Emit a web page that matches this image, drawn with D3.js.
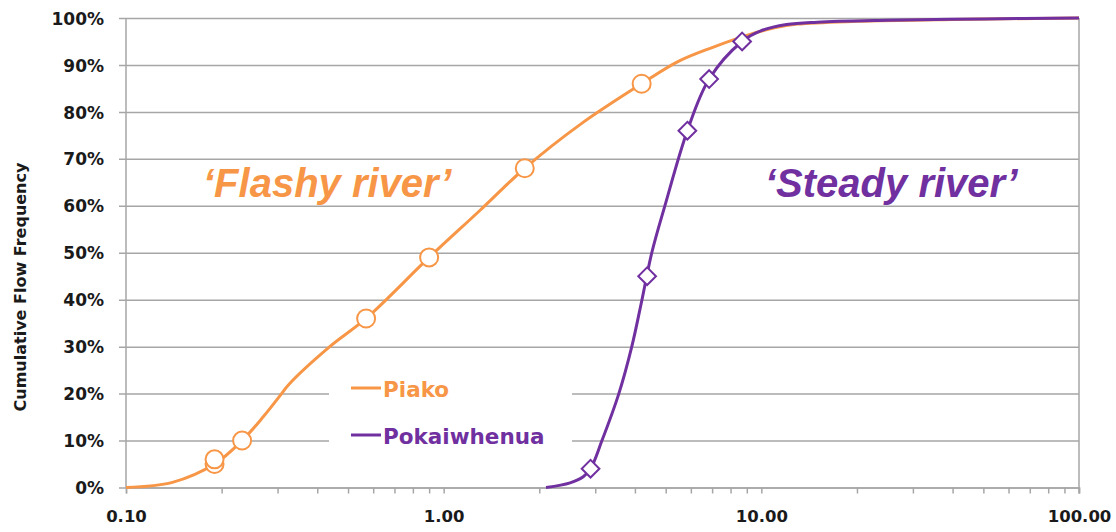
<!DOCTYPE html>
<html>
<head>
<meta charset="utf-8">
<script src="https://cdn.jsdelivr.net/npm/d3@7"></script>
<style>
  body { margin: 0; background: #fff; }
  svg { display: block; }
</style>
</head>
<body>
<svg id="chart" width="1116" height="532"></svg>
<script>
// flow duration curves
const piakoFlow = [0.1, 0.14, 0.19, 0.232, 0.27, 0.309, 0.324, 0.438, 0.57, 0.9, 1.3, 1.8, 2.7, 4.2, 5.5, 7, 9, 11, 13, 20, 40, 100]
const piakoFreq = [0, 1.1, 5, 10, 15, 20, 21.8, 30, 36, 49, 59, 68, 77.4, 86, 90.8, 93.7, 96.3, 97.9, 98.7, 99.3, 99.7, 100]
const pokaFlow = [2.1, 2.5, 2.75, 2.9, 3.15, 3.56, 3.91, 4.21, 4.52, 4.97, 5.85, 6.85, 8.7, 10, 12, 15, 25, 50, 100]
const pokaFreq = [0, 1, 2.3, 4, 10, 20, 30, 40, 50, 60, 76, 87, 95, 97.3, 98.6, 99.1, 99.5, 99.8, 100]

// marker points
const piakoMarkFlow = [0.19, 0.19, 0.232, 0.57, 0.9, 1.8, 4.2]
const piakoMarkFreq = [5, 6, 10, 36, 49, 68, 86]
const pokaMarkFlow = [2.9, 4.37, 5.85, 6.85, 8.7]
const pokaMarkFreq = [4, 45, 76, 87, 95]

const xTicks = [0.1, 1, 10, 100]
const yTicks = [0, 10, 20, 30, 40, 50, 60, 70, 80, 90, 100]

const orange = '#f79646'
const purple = '#7030a0'
const grid = '#a6a6a6'

const svg = d3.select('#chart')
const mLeft = 126, mRight = 1079, mTop = 18, mBottom = 487.5

const x = d3.scaleLog().domain([0.1, 100]).range([mLeft, mRight])
const y = d3.scaleLinear().domain([0, 100]).range([mBottom, mTop])

// gridlines + y labels
const yAxis = d3.axisLeft(y)
    .tickValues(yTicks)
    .tickSize(-(mRight - mLeft) - 7)
    .tickFormat(d => d + '%')
svg.append('g')
    .attr('transform', `translate(${mRight},0)`)
    .call(yAxis)
    .call(g => g.select('.domain').remove())
    .call(g => g.selectAll('.tick line').attr('stroke', grid).attr('stroke-width', 1.5)
        .attr('x1', -(mRight - mLeft) - 7).attr('x2', 0))
    .call(g => g.selectAll('.tick text')
        .attr('x', -(mRight - mLeft) - 22)
        .attr('dy', '0.36em')
        .style('font-family', 'DejaVu Sans')
        .style('font-weight', 'bold')
        .style('font-size', '17px')
        .attr('fill', '#1a1a1a'))

// x axis with minor ticks
const minor = []
for (let dec = 0.1; dec < 100; dec *= 10) {
    for (let k = 1; k <= 10; k++) minor.push(+(dec * k).toPrecision(3))
}
const xAxis = d3.axisBottom(x)
    .tickValues([...new Set(minor)])
    .tickSize(6)
    .tickFormat(d => xTicks.includes(d) ? d.toFixed(2) : '')
svg.append('g')
    .attr('transform', `translate(0,${mBottom})`)
    .call(xAxis)
    .call(g => g.select('.domain').attr('stroke', grid).attr('stroke-width', 1.5))
    .call(g => g.selectAll('.tick line').attr('stroke', grid).attr('stroke-width', 1.5))
    .call(g => g.selectAll('.tick text')
        .attr('y', 23)
        .style('font-family', 'DejaVu Sans')
        .style('font-weight', 'bold')
        .style('font-size', '16.5px')
        .attr('fill', '#1a1a1a'))

// plot border left/right
svg.append('line').attr('x1', mLeft).attr('x2', mLeft).attr('y1', mTop).attr('y2', mBottom)
    .attr('stroke', grid).attr('stroke-width', 1.5)
svg.append('line').attr('x1', mRight).attr('x2', mRight).attr('y1', mTop).attr('y2', mBottom + 6)
    .attr('stroke', grid).attr('stroke-width', 1.5)

// y axis title
svg.append('text')
    .attr('transform', `translate(26,287) rotate(-90)`)
    .attr('text-anchor', 'middle')
    .style('font-family', 'DejaVu Sans')
    .style('font-weight', 'bold')
    .style('font-size', '16px')
    .attr('fill', '#1a1a1a')
    .text('Cumulative Flow Frequency')

// legend box (covers gridlines)
svg.append('rect')
    .attr('x', 329).attr('y', 362).attr('width', 243).attr('height', 104)
    .attr('fill', '#fff')

const legend = [
    { name: 'Piako', color: orange, yy: 388 },
    { name: 'Pokaiwhenua', color: purple, yy: 435 }
]
const lg = svg.append('g').selectAll('g').data(legend).enter().append('g')
lg.append('line')
    .attr('x1', 351).attr('x2', 381)
    .attr('y1', d => d.yy).attr('y2', d => d.yy)
    .attr('stroke', d => d.color).attr('stroke-width', 3)
lg.append('text')
    .attr('x', 383).attr('y', d => d.yy + 8.5)
    .style('font-family', 'DejaVu Sans')
    .style('font-weight', 'bold')
    .style('font-size', '21.5px')
    .attr('fill', d => d.color)
    .text(d => d.name)

// curves
const line = d3.line()
    .x(d => x(d[0]))
    .y(d => y(d[1]))
    .curve(d3.curveCatmullRom.alpha(0.5))

const series = [
    { flow: piakoFlow, freq: piakoFreq, color: orange },
    { flow: pokaFlow, freq: pokaFreq, color: purple }
]
series.forEach(s => {
    svg.append('path')
        .datum(d3.zip(s.flow, s.freq))
        .attr('d', line)
        .attr('fill', 'none')
        .attr('stroke', s.color)
        .attr('stroke-width', 3)
        .attr('stroke-linejoin', 'round')
})

// markers
svg.append('g').selectAll('circle')
    .data(d3.zip(piakoMarkFlow, piakoMarkFreq))
    .enter().append('circle')
    .attr('cx', d => x(d[0]))
    .attr('cy', d => y(d[1]))
    .attr('r', 9)
    .attr('fill', '#fff')
    .attr('stroke', orange)
    .attr('stroke-width', 2)

const diamond = d3.symbol().type(d3.symbolDiamond2).size(200)
svg.append('g').selectAll('path')
    .data(d3.zip(pokaMarkFlow, pokaMarkFreq))
    .enter().append('path')
    .attr('d', diamond)
    .attr('transform', d => `translate(${x(d[0])},${y(d[1])})`)
    .attr('fill', '#fff')
    .attr('stroke', purple)
    .attr('stroke-width', 2)

// annotations
const notes = [
    { text: '\u2018Flashy river\u2019', x: 203, color: orange },
    { text: '\u2018Steady river\u2019', x: 765, color: purple }
]
svg.append('g').selectAll('text')
    .data(notes)
    .enter().append('text')
    .attr('x', d => d.x).attr('y', 197)
    .style('font-family', 'Liberation Sans')
    .style('font-weight', 'bold')
    .style('font-style', 'italic')
    .style('font-size', '40px')
    .attr('fill', d => d.color)
    .text(d => d.text)
</script>
</body>
</html>
